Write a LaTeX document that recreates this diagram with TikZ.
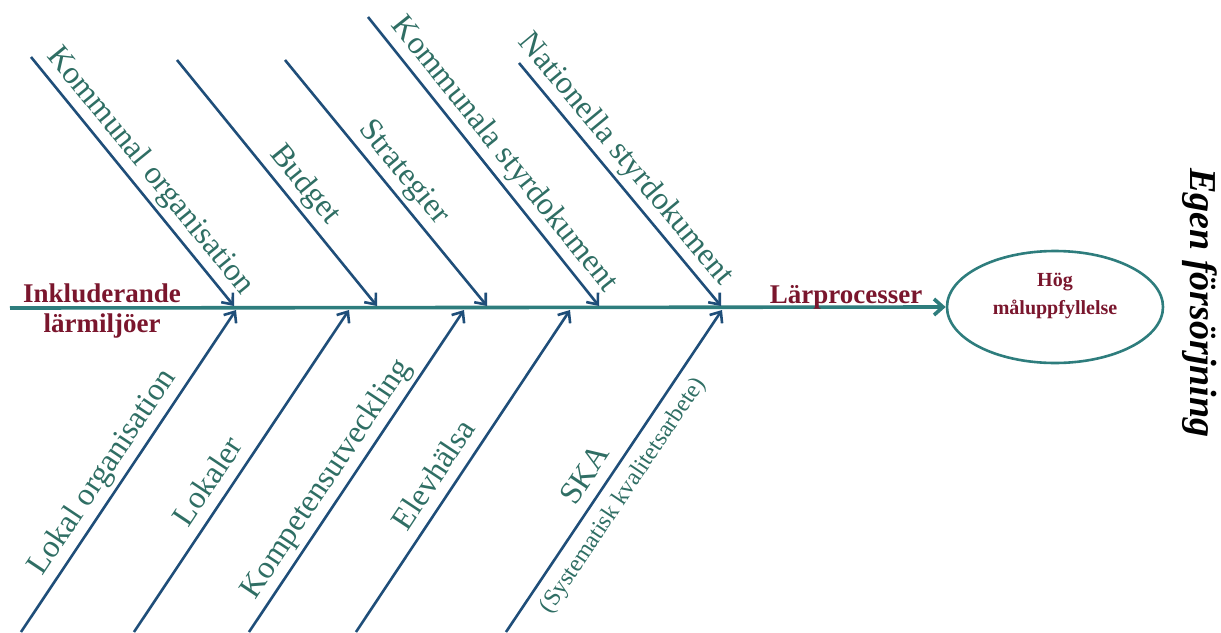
\documentclass[tikz,border=0pt]{standalone}
\usepackage{fontspec}
\setmainfont{Liberation Serif}
\usetikzlibrary{arrows.meta,shapes.geometric}
\definecolor{branchblue}{RGB}{31,78,121}
\definecolor{spineteal}{RGB}{46,125,125}
\definecolor{labelgreen}{RGB}{47,110,100}
\definecolor{causered}{RGB}{122,22,45}
\begin{document}
\begin{tikzpicture}[x=1pt,y=-1pt,
  branch/.style={draw=branchblue, line width=2.6pt,
    -{Straight Barb[length=9pt,width=15pt]}},
  spine/.style={draw=spineteal, line width=3.6pt,
    -{Straight Barb[length=9pt,width=16pt]}},
  lbl/.style={text=labelgreen, font=\fontsize{32}{36}\selectfont,
    inner sep=1pt, text height=22pt, text depth=7pt, sloped},
  ulabel/.style={lbl, above=3pt},
  sublabel/.style={text=labelgreen, font=\fontsize{24}{28}\selectfont,
    inner sep=1pt, text height=17pt, text depth=5pt, sloped, below=8pt},
  redtext/.style={text=causered, font=\fontsize{27}{30}\selectfont\bfseries,
    inner sep=0pt, align=center},
  goalstyle/.style={draw=spineteal, line width=2.6pt, ellipse,
    minimum width=216pt, minimum height=112pt, inner sep=0pt},
  goaltext/.style={text=causered, font=\fontsize{20}{28}\selectfont\bfseries,
    inner sep=0pt, align=center}
]
\useasboundingbox (0,0) rectangle (1221,632);

% goal
\node[goalstyle] (goal) at (1055,307) {};
\node[goaltext] (goaltxt) at ([yshift=11pt]goal.center) {Hög\\måluppfyllelse};

% spine
\coordinate (spinestart) at (10,308);
\draw[spine] (spinestart) -- (goal.west);

% upper branches
\coordinate (us1) at (31,57);   \coordinate (ut1) at (234,306);
\coordinate (us2) at (177,60);  \coordinate (ut2) at (377,306);
\coordinate (us3) at (285,60);  \coordinate (ut3) at (487,306);
\coordinate (us4) at (368,17);  \coordinate (ut4) at (599,306);
\coordinate (us5) at (519,63);  \coordinate (ut5) at (721,306);

\draw[branch] (us1) -- node[ulabel,pos=0.51] (lu1) {Kommunal organisation} (ut1);
\draw[branch] (us2) -- node[ulabel,pos=0.56] (lu2) {Budget} (ut2);
\draw[branch] (us3) -- node[ulabel,pos=0.51] (lu3) {Strategier} (ut3);
\draw[branch] (us4) -- node[ulabel,pos=0.52] (lu4) {Kommunala styrdokument} (ut4);
\draw[branch] (us5) -- node[ulabel,pos=0.45] (lu5) {Nationella styrdokument} (ut5);

% lower branches
\coordinate (ls1) at (21,632);  \coordinate (lt1) at (236,310);
\coordinate (ls2) at (134,632); \coordinate (lt2) at (349,310);
\coordinate (ls3) at (249,632); \coordinate (lt3) at (464,310);
\coordinate (ls4) at (356,632); \coordinate (lt4) at (570,310);
\coordinate (ls5) at (506,632); \coordinate (lt5) at (722,310);

\draw[branch] (ls1) -- node[ulabel,pos=0.46] (ll1) {Lokal organisation} (lt1);
\draw[branch] (ls2) -- node[ulabel,pos=0.43] (ll2) {Lokaler} (lt2);
\draw[branch] (ls3) -- node[ulabel,pos=0.44] (ll3) {Kompetensutveckling} (lt3);
\draw[branch] (ls4) -- node[ulabel,pos=0.45] (ll4) {Elevhälsa} (lt4);
\draw[branch] (ls5) -- node[ulabel,pos=0.45] (ll5) {SKA}
  node[sublabel,pos=0.46] (ll5b) {(Systematisk kvalitetsarbete)} (lt5);

% red texts
\node[redtext] (inkl) at (102,311) {Inkluderande\\lärmiljöer};
\node[redtext, anchor=base] (larp) at (846,303) {Lärprocesser};

% right vertical text
\node[rotate=-90, font=\fontsize{38}{40}\selectfont\bfseries\itshape, inner sep=0pt]
  (egen) at (1200,303) {Egen försörjning};
\end{tikzpicture}
\end{document}
